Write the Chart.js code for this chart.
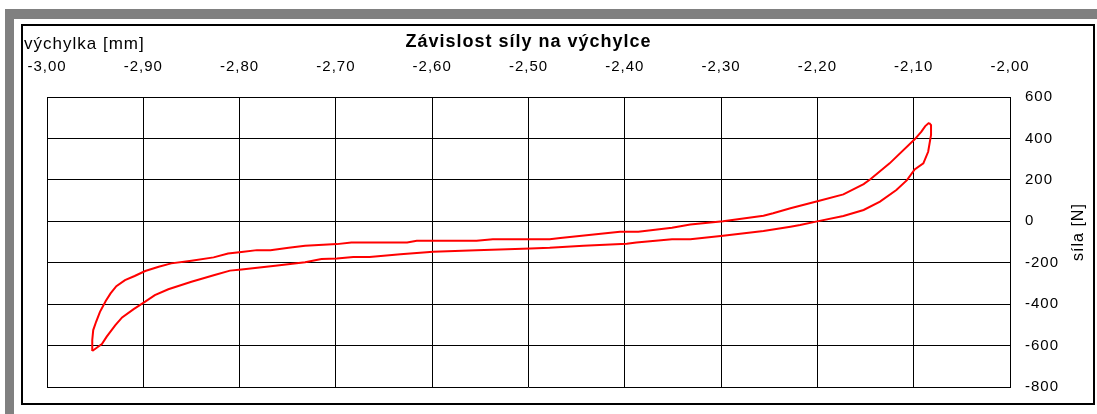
<!DOCTYPE html>
<html lang="cs">
<head>
<meta charset="utf-8">
<title>Závislost síly na výchylce</title>
<script src="https://cdn.jsdelivr.net/npm/chart.js@4/dist/chart.umd.min.js"></script>
<style>
  html, body { margin: 0; padding: 0; background: #fff; width: 1097px; height: 414px; overflow: hidden; }
  #frame { position: absolute; left: 5px; top: 9px; width: 1092px; height: 405px; background: #808080; }
  #sheet { position: absolute; left: 14px; top: 19px; width: 1083px; height: 395px; background: #fff; }
  #box { position: absolute; left: 21px; top: 24px; width: 1070px; height: 377px; border: 2px solid #000; background: #fff; }
  canvas { display: block; }
</style>
</head>
<body>
<div id="frame"></div>
<div id="sheet"></div>
<div id="box"><canvas id="chart" width="1070" height="377"></canvas></div>
<script>
// Hysteresis loop: loading branch (upper) and unloading branch (lower)
const loadDeflection = [-2.953, -2.953, -2.952, -2.949, -2.945, -2.939, -2.934, -2.928, -2.919, -2.909,
  -2.898, -2.884, -2.871, -2.850, -2.827, -2.812, -2.798, -2.782, -2.768, -2.749,
  -2.732, -2.699, -2.684, -2.626, -2.616, -2.554, -2.537, -2.478, -2.467, -2.405,
  -2.386, -2.351, -2.332, -2.298, -2.256, -2.246, -2.228, -2.199, -2.173, -2.152,
  -2.145, -2.125, -2.099, -2.092, -2.088, -2.084];
const loadForce = [-626, -573, -525, -485, -437, -385, -348, -313, -284, -264,
  -240, -219, -203, -190, -174, -155, -148, -139, -139, -128,
  -118, -110, -102, -102, -94, -94, -86, -86, -80, -50,
  -50, -31, -15, 1, 27, 39, 63, 98, 130, 180,
  203, 280, 396, 433, 460, 476];

const unloadDeflection = [-2.084, -2.082, -2.082, -2.085, -2.090, -2.099, -2.107, -2.118, -2.135, -2.152,
  -2.173, -2.199, -2.218, -2.228, -2.256, -2.298, -2.332, -2.351, -2.388, -2.398,
  -2.443, -2.478, -2.498, -2.554, -2.599, -2.633, -2.665, -2.682, -2.699, -2.715,
  -2.732, -2.763, -2.798, -2.810, -2.826, -2.850, -2.874, -2.888, -2.898, -2.910,
  -2.922, -2.929, -2.938, -2.943, -2.948, -2.953];
const unloadForce = [476, 465, 417, 336, 280, 251, 199, 151, 95, 55,
  26, 1, -18, -26, -47, -70, -86, -86, -102, -108,
  -118, -128, -131, -140, -147, -159, -172, -172, -179, -182,
  -198, -214, -232, -238, -259, -292, -328, -356, -388, -424,
  -464, -501, -557, -593, -609, -626];

// Axis ranges and captions
const deflectionRange = [-3.0, -2.0];
const deflectionStep = 0.1;
const forceRange = [-800, 600];
const forceStep = 200;
const chartTitle = 'Závislost síly na výchylce';
const deflectionCaption = 'výchylka [mm]';
const forceCaption = 'síla [N]';

const FONT = '"Liberation Sans", Arial, Helvetica, sans-serif';

function toPoints(xs, ys) {
  return xs.map((x, i) => ({ x: x, y: ys[i] }));
}

// Slightly widened letter spacing for all chart text
const spacingPlugin = {
  id: 'spacing',
  beforeDraw(chart) { chart.ctx.letterSpacing = '1px'; }
};

// Axis captions: deflection caption at top left, force caption rotated on the right
const captionPlugin = {
  id: 'captions',
  afterDraw(chart) {
    const ctx = chart.ctx;
    const area = chart.chartArea;
    ctx.save();
    ctx.fillStyle = '#000';
    ctx.letterSpacing = '1px';
    ctx.font = '17px ' + FONT;
    ctx.textAlign = 'left';
    ctx.textBaseline = 'alphabetic';
    ctx.fillText(deflectionCaption, 1, 23);

    ctx.font = '16px ' + FONT;
    ctx.textAlign = 'center';
    ctx.textBaseline = 'middle';
    ctx.translate(chart.width - 14, (area.top + area.bottom) / 2 - 10);
    ctx.rotate(-Math.PI / 2);
    ctx.fillText(forceCaption, 0, 0);
    ctx.restore();
  }
};

const lineStyle = {
  showLine: true,
  borderColor: '#ff0000',
  backgroundColor: '#ff0000',
  borderWidth: 2,
  pointRadius: 0,
  pointHoverRadius: 0,
  tension: 0,
  fill: false
};

new Chart(document.getElementById('chart'), {
  type: 'scatter',
  data: {
    datasets: [
      Object.assign({ label: 'zatěžování', data: toPoints(loadDeflection, loadForce) }, lineStyle),
      Object.assign({ label: 'odlehčování', data: toPoints(unloadDeflection, unloadForce) }, lineStyle)
    ]
  },
  options: {
    responsive: false,
    animation: false,
    devicePixelRatio: 1,
    layout: { padding: { left: 24, right: 0, top: 0, bottom: 16 } },
    plugins: {
      legend: { display: false },
      tooltip: { enabled: false },
      title: {
        display: true,
        text: chartTitle,
        fullSize: false,
        color: '#000',
        font: { family: FONT, size: 18, weight: 'bold' },
        padding: { top: 5, bottom: 0 }
      }
    },
    scales: {
      x: {
        type: 'linear',
        position: 'top',
        min: deflectionRange[0],
        max: deflectionRange[1],
        afterBuildTicks(scale) {
          const ticks = [];
          const n = Math.round((deflectionRange[1] - deflectionRange[0]) / deflectionStep);
          for (let i = 0; i <= n; i++) ticks.push({ value: deflectionRange[0] + i * deflectionStep });
          scale.ticks = ticks;
        },
        afterFit(scale) {
          scale.height = 44.5;
          scale.paddingLeft = 0;
          scale.paddingRight = 0;
        },
        ticks: {
          color: '#000',
          font: { family: FONT, size: 15 },
          padding: 21,
          maxRotation: 0,
          autoSkip: false,
          callback: (v) => Number(v).toFixed(2).replace('.', ',')
        },
        grid: { color: '#000', lineWidth: 1, drawTicks: false },
        border: { color: '#000', width: 1 }
      },
      y: {
        type: 'linear',
        position: 'right',
        min: forceRange[0],
        max: forceRange[1],
        afterFit(scale) {
          scale.width = 83;
          scale.paddingTop = 0;
          scale.paddingBottom = 0;
        },
        ticks: {
          stepSize: forceStep,
          color: '#000',
          font: { family: FONT, size: 15 },
          padding: 15,
          callback: (v) => String(v)
        },
        grid: { color: '#000', lineWidth: 1, drawTicks: false },
        border: { color: '#000', width: 1 }
      }
    }
  },
  plugins: [spacingPlugin, captionPlugin]
});
</script>
</body>
</html>
